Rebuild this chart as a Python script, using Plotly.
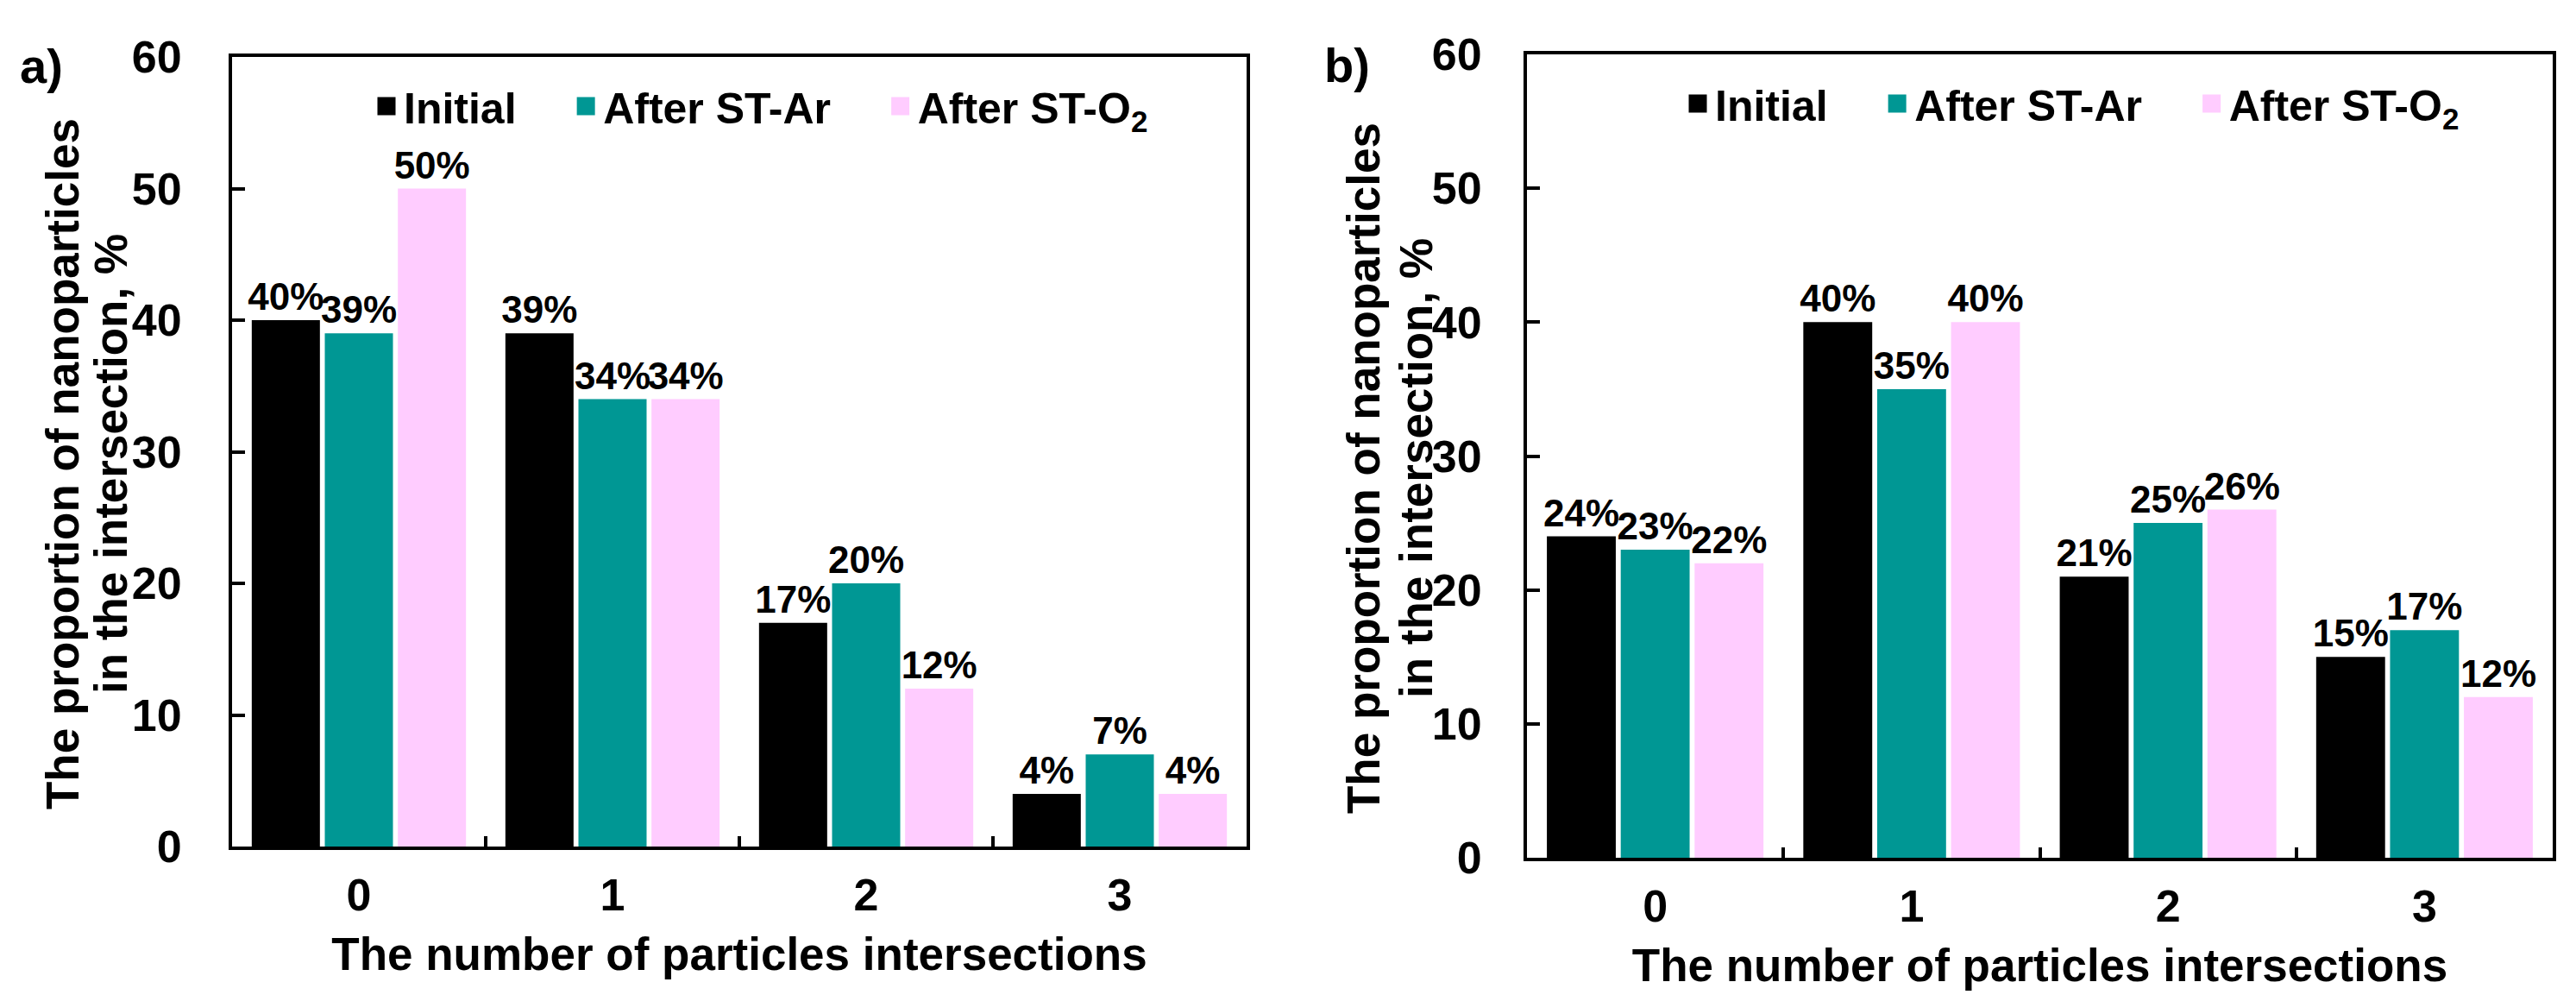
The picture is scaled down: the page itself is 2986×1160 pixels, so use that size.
import plotly.graph_objects as go

categories = ["0", "1", "2", "3"]
series_names = ["Initial&nbsp;&nbsp;&nbsp;&nbsp;", "After ST-Ar&nbsp;&nbsp;&nbsp;&nbsp;", "After ST-O<sub>2</sub>"]
colors = ["#000000", "#009794", "#FFCCFF"]

# panel a)
a_initial = [40, 39, 17, 4]
a_after_ar = [39, 34, 20, 7]
a_after_o2 = [50, 34, 12, 4]
# panel b)
b_initial = [24, 40, 21, 15]
b_after_ar = [23, 35, 25, 17]
b_after_o2 = [22, 40, 26, 12]

y_ticks = [0, 10, 20, 30, 40, 50, 60]
x_title = "The number of particles intersections"
y_title_lines = ["The proportion of nanoparticles", "in the intersection, %"]

W, H = 2986, 1160
FONT = "Liberation Sans, Arial, sans-serif"

fig = go.Figure()

panels = [
    ("x", "y", "legend", [a_initial, a_after_ar, a_after_o2]),
    ("x2", "y2", "legend2", [b_initial, b_after_ar, b_after_o2]),
]
for xa, ya, lg, data in panels:
    for name, col, vals in zip(series_names, colors, data):
        fig.add_trace(go.Bar(
            x=categories, y=vals, name=name, xaxis=xa, yaxis=ya,
            marker=dict(color=col, line=dict(width=0)),
            text=[f"{v}%" for v in vals], textposition="outside",
            constraintext="none", cliponaxis=False,
            textfont=dict(size=44, color="black", family=FONT, weight="bold"),
            showlegend=False, legend=lg,
        ))
    for name, col in zip(series_names, colors):
        fig.add_trace(go.Scatter(
            x=[None], y=[None], mode="markers", name=name, xaxis=xa, yaxis=ya,
            marker=dict(symbol="square", size=16, color=col,
                        line=dict(color=col, width=5)),
            showlegend=True, legend=lg,
        ))

axis_common = dict(
    showline=True, linecolor="black", linewidth=4, mirror=True,
    ticks="inside", tickcolor="black", tickwidth=4,
    tickfont=dict(size=52, family=FONT, color="black", weight="bold"),
    showgrid=False, zeroline=False, automargin=False,
)

xtitle = dict(text=x_title,
              font=dict(size=53, family=FONT, color="black", weight="bold"),
              standoff=22)

title_font = dict(size=53, family=FONT, color="black", weight="bold")
label_font = dict(size=56, family=FONT, color="black", weight="bold")

annotations = [
    dict(text="a)", x=40 / W, y=1 - 68 / H, xref="paper", yref="paper",
         xanchor="center", yanchor="middle", showarrow=False, font=label_font),
    dict(text="b)", x=1553 / W, y=1 - 67 / H, xref="paper", yref="paper",
         xanchor="center", yanchor="middle", showarrow=False, font=label_font),
]
# rotated y-axis titles (two lines each)
for (cx1, cx2, cy) in [(64, 120, 530), (1572, 1633, 535)]:
    for line, cx in zip(y_title_lines, (cx1, cx2)):
        annotations.append(dict(
            text=line, x=cx / W, y=1 - cy / H, xref="paper", yref="paper",
            xanchor="center", yanchor="middle", textangle=-90,
            showarrow=False, font=title_font))

fig.update_layout(
    width=W, height=H,
    margin=dict(l=0, r=0, t=0, b=0, autoexpand=False),
    paper_bgcolor="white", plot_bgcolor="white",
    font=dict(family=FONT, color="black", weight="bold"),
    barmode="group", bargap=0.136, bargroupgap=0.067,
    xaxis=dict(domain=[261 / W, 1437 / W], anchor="y", type="category",
               tickson="boundaries", ticklen=12, ticklabelstandoff=8,
               title=xtitle, **axis_common),
    yaxis=dict(domain=[1 - 973 / H, 1 - 58 / H], anchor="x", range=[0, 60],
               tickvals=y_ticks, ticklen=15, ticklabelstandoff=44,
               **axis_common),
    xaxis2=dict(domain=[1762 / W, 2951 / W], anchor="y2", type="category",
                tickson="boundaries", ticklen=12, ticklabelstandoff=8,
                title=xtitle, **axis_common),
    yaxis2=dict(domain=[1 - 986 / H, 1 - 55 / H], anchor="x2", range=[0, 60],
                tickvals=y_ticks, ticklen=15, ticklabelstandoff=38,
                **axis_common),
    legend=dict(orientation="h", x=420 / W, y=1 - 115 / H, xanchor="left",
                yanchor="middle", bgcolor="rgba(0,0,0,0)", itemsizing="trace",
                font=dict(size=50, family=FONT, color="black", weight="bold")),
    legend2=dict(orientation="h", x=1940 / W, y=1 - 112 / H, xanchor="left",
                 yanchor="middle", bgcolor="rgba(0,0,0,0)", itemsizing="trace",
                 font=dict(size=50, family=FONT, color="black", weight="bold")),
    annotations=annotations,
)

fig.write_html("out.html")
